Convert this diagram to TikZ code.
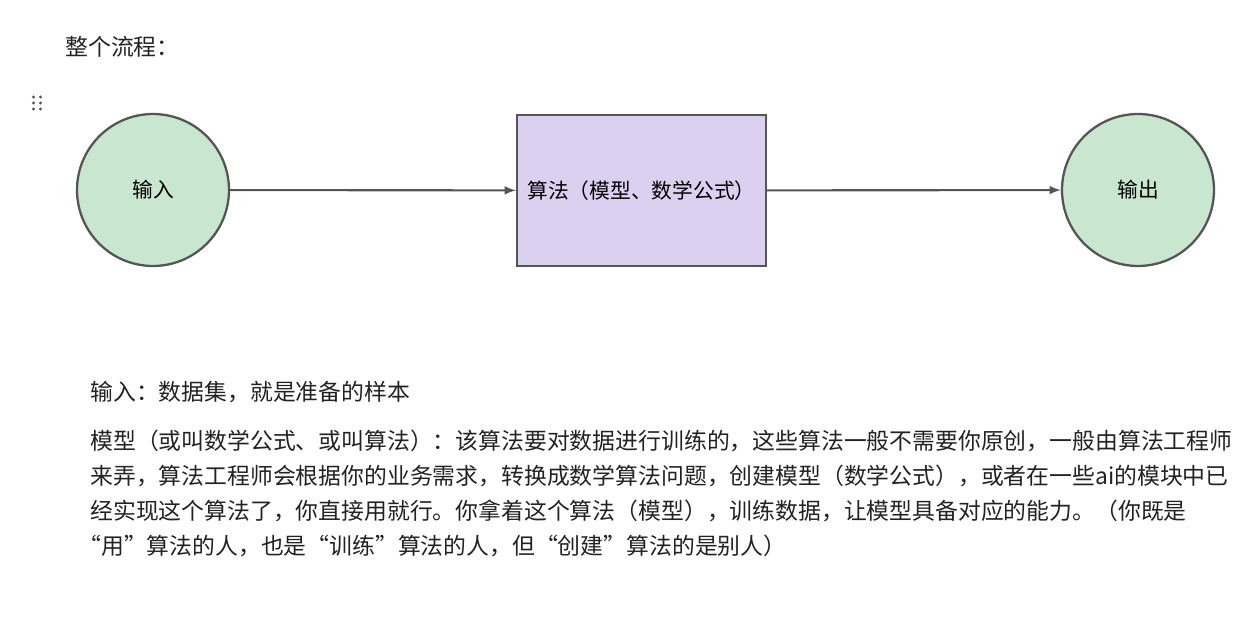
\documentclass[tikz,border=0pt]{standalone}
\usepackage{fontspec}
\setmainfont{Noto Sans CJK SC}
\usetikzlibrary{positioning, arrows}
\definecolor{circfill}{HTML}{C9E7CF}
\definecolor{boxfill}{HTML}{DCD0F1}
\definecolor{edgegray}{HTML}{555555}
\definecolor{txtgray}{HTML}{222222}
\tikzset{
ioc/.style={circle, draw=edgegray, line width=1.3pt, fill=circfill, minimum size=3.04cm, inner sep=0pt, font=\fontsize{11.8}{14}\selectfont},
algo/.style={rectangle, draw=edgegray, line width=1.3pt, fill=boxfill, minimum width=4.98cm, minimum height=3.02cm, inner sep=2pt, font=\fontsize{11.8}{14}\selectfont},
flow/.style={->, >=latex, draw=edgegray, line width=1.2pt},
para/.style={anchor=west, inner sep=0pt, text=txtgray, font=\fontsize{13}{15}\selectfont},
}
\begin{document}
\begin{tikzpicture}[x=0.02cm, y=-0.02cm]
\useasboundingbox (0,0) rectangle (1245,621);
\node[para] (title) at (65,47) {整个流程：};
% drag handle
\foreach \dx in {0,7} \foreach \dy in {0,6,12}
  \fill[edgegray] (33.5+\dx,97+\dy) circle (1.6);
\node[ioc] (in) at (153,190) {输入};
\node[algo] (alg) at (641.5,190.5) {算法（模型、数学公式）};
\node[ioc] (out) at (1138,190) {输出};
\draw[flow] (in) -- (alg);
\draw[flow] (alg) -- (out);
\node[para] (l0) at (90,392) {输入：数据集，就是准备的样本};
\node[para] (l1) at (90,441) {模型（或叫数学公式、或叫算法）：该算法要对数据进行训练的，这些算法一般不需要你原创，一般由算法工程师};
\node[para] (l2) at (90,476) {来弄，算法工程师会根据你的业务需求，转换成数学算法问题，创建模型（数学公式），或者在一些ai的模块中已};
\node[para] (l3) at (90,511) {经实现这个算法了，你直接用就行。你拿着这个算法（模型），训练数据，让模型具备对应的能力。（你既是};
\node[para] (l4) at (78,546) {“用”算法的人，也是“训练”算法的人，但“创建”算法的是别人）};
\end{tikzpicture}
\end{document}
